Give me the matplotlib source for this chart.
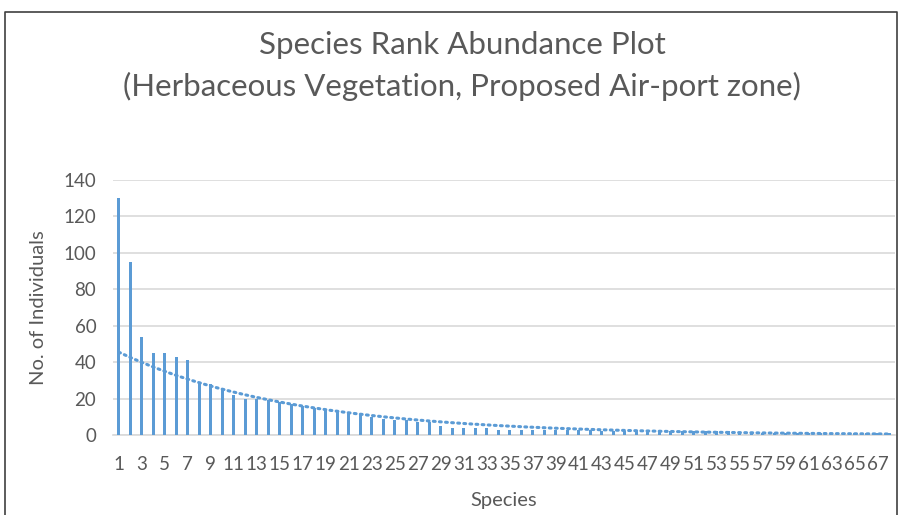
import numpy as np
import matplotlib.pyplot as plt

plt.rcParams['font.family'] = ['Lato', 'DejaVu Sans']

# abundance of each species, ranked
abundance = [130, 95, 54, 45, 45, 43, 41, 29, 28, 25,
             22, 20, 20, 19, 18, 17, 16, 15, 14, 13,
             12, 11, 10, 9, 8, 8, 7, 7, 5, 4,
             4, 4, 4, 3, 3, 3, 3, 3, 3, 3,
             3, 3, 2, 2, 2, 2, 2, 2, 2, 2,
             2, 2, 2, 2, 1, 1, 1, 1, 1, 1,
             1, 1, 1, 1, 1, 1, 1, 1]
species = np.arange(1, len(abundance) + 1)
tick_labels = [str(s) for s in species[::2]]

blue = '#5B9BD5'
grey = '#595959'

fig = plt.figure(figsize=(9.03, 5.15), dpi=100)
ax = fig.add_axes([113/903, 1 - 435/515, 782/903, 255/515])

ax.bar(species, abundance, width=0.26, color=blue, zorder=3)

# exponential trendline (like excel), fit ln(y) = ln(a) + b x
b, lna = np.polyfit(species, np.log(abundance), 1)
xs = np.linspace(1, len(abundance), 300)
ax.plot(xs, np.exp(lna + b * xs), color=blue, lw=2.2, ls=(0, (0.6, 1.4)),
        dash_capstyle='round', zorder=4)

ax.set_xlim(0.5, len(abundance) + 0.5)
ax.set_ylim(0, 140)
ax.set_yticks(range(0, 141, 20))
ax.set_xticks(species[::2])
ax.set_xticklabels(tick_labels)
ax.yaxis.grid(True, color='#D9D9D9', lw=1.2, zorder=0)
for s in ['top', 'right', 'left']:
    ax.spines[s].set_visible(False)
ax.spines['bottom'].set_color('#D9D9D9')
ax.spines['bottom'].set_linewidth(1.2)
ax.tick_params(length=0, labelsize=13.5, colors=grey, pad=15)
ax.tick_params(axis='y', pad=12)

ax.set_ylabel('No. of Individuals', fontsize=14.5, color=grey, labelpad=12)
ax.set_xlabel('Species', fontsize=14.5, color=grey, labelpad=14)

fig.text(0.512, 1 - 45/515, 'Species Rank Abundance Plot', ha='center', va='center',
         fontsize=22.5, color=grey)
fig.text(0.512, 1 - 86/515, '(Herbaceous Vegetation, Proposed Air-port zone)',
         ha='center', va='center', fontsize=22.5, color=grey)

# chart border
fig.add_artist(plt.Line2D([5/903, 5/903, 897/903, 897/903], [0, 1 - 12/515, 1 - 12/515, 0],
                          color='#404040', lw=1.2, transform=fig.transFigure))

fig.savefig('out.png', dpi=100)
